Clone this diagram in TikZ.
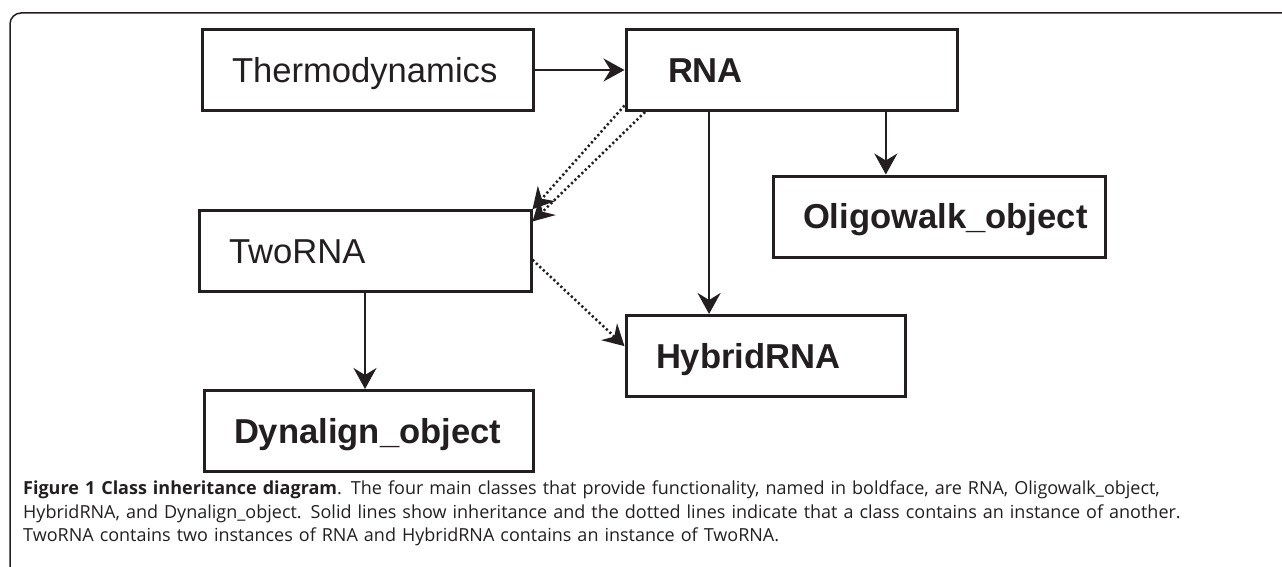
\documentclass[tikz,border=0pt]{standalone}
\usepackage{fontspec}
\setmainfont{Liberation Sans}
\newfontfamily\capfont{Open Sans}
\usepackage{tikz}
\usetikzlibrary{positioning,arrows.meta}
\definecolor{inkgray}{HTML}{231F20}

\begin{document}
\begin{tikzpicture}[
  x=1pt, y=-1pt,
  cls/.style={draw=inkgray, line width=3pt, minimum height=81pt, text width=271pt,
              align=left, inner xsep=30pt, inner ysep=0pt, text height=24.8pt, text depth=0pt,
              font=\fontsize{34.6}{40}\selectfont, text=inkgray},
  main/.style={cls, font=\fontsize{34.6}{40}\selectfont\bfseries},
  isa/.style={->, draw=inkgray, line width=2.5pt},
  uses/.style={->, draw=inkgray, line width=2.5pt, dash pattern=on 2.2pt off 2.6pt},
  >={Stealth[length=21pt, width=23pt, inset=7pt]}
]
\useasboundingbox (0,0) rectangle (1282,567);
\draw[inkgray, line width=1.5pt, rounded corners=11pt] (10,567) -- (10,13) -- (1282,13);

\node[cls] (thermo) at (367.5,70) {Thermodynamics};
\node[main, inner xsep=42pt, text width=247pt] (rna) at (791.5,70) {RNA};
\node[cls, text width=272pt] (tworna) at (365,251) {TwoRNA};
\node[main, text width=272pt] (oligo) at (939,216.5) {Oligowalk\_object};
\node[main, text width=219pt] (hybrid) at (765.5,356) {HybridRNA};
\node[main, text width=269pt] (dynalign) at (368.5,431) {Dynalign\_object};

\draw[isa] (thermo) -- (rna);
\draw[isa] (rna.-24) -- (rna.-24 |- oligo.north);
\draw[isa] (rna.207) -- (rna.207 |- hybrid.north);
\draw[isa] (tworna.south) -- (tworna.south |- dynalign.north);
\draw[uses] (rna.192) -- (tworna.14);
\draw[uses] (rna.196) -- (tworna.10);
\draw[uses] (tworna.-3) -- (hybrid.176);

\node[anchor=north west, text width=1250pt, align=left, inner sep=0pt, text=inkgray,
      font=\capfont\fontsize{18}{23.5}\selectfont] (caption) at (23,481)
  {\textbf{Figure 1 Class inheritance diagram}. The four main classes that provide functionality, named in boldface, are RNA, Oligowalk\_object,\\
   HybridRNA, and Dynalign\_object. Solid lines show inheritance and the dotted lines indicate that a class contains an instance of another.\\
   TwoRNA contains two instances of RNA and HybridRNA contains an instance of TwoRNA.};
\end{tikzpicture}
\end{document}
